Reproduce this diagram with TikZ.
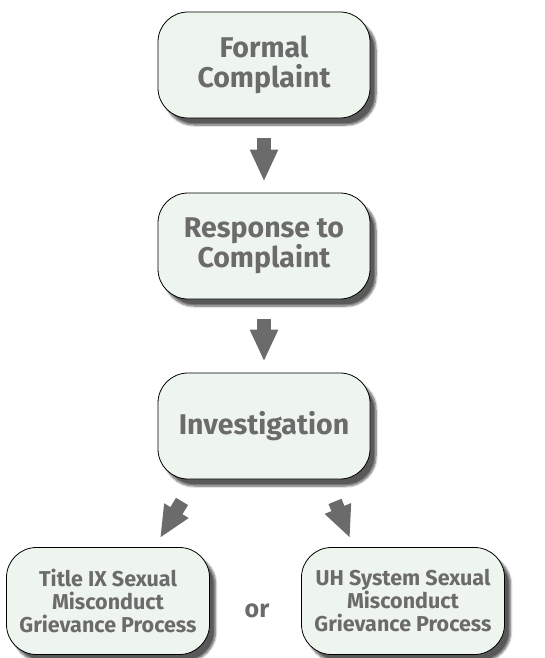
\documentclass[tikz,border=0pt]{standalone}
\usepackage{fontspec}
\setmainfont{Fira Sans}
\usetikzlibrary{arrows.meta,shadows.blur}
\definecolor{boxfill}{HTML}{EEF5EE}
\definecolor{textgray}{HTML}{6B6B6B}
\begin{document}
\begin{tikzpicture}[stepBox/.style={draw=black,line width=0.8pt,fill=boxfill,
                      rounded corners=30pt,align=center,text=textgray,
                      minimum width=212pt,minimum height=106pt,
                      font=\fontsize{28.5}{30}\selectfont\bfseries,
                      blur shadow={shadow xshift=6pt,shadow yshift=-7pt,
                        shadow blur steps=8,shadow opacity=65}},
                    endBox/.style={stepBox,minimum width=203pt,minimum height=107pt,
                      font=\fontsize{21.5}{23}\selectfont\bfseries},
                    bigArrow/.style={draw=textgray,line width=14pt,
                      -{Triangle[width=26pt,length=32pt]}}]
  \useasboundingbox (0pt,0pt) rectangle (545pt,-658pt);
  % steps
  \node [stepBox] (formal) at (264pt,-65pt) {Formal\\Complaint};
  \node [stepBox] (response) at (264pt,-246pt) {Response to\\Complaint};
  \node [stepBox] (invest) at (264pt,-426pt) {Investigation};
  \node [endBox] (titleix) at (108pt,-601pt) {Title IX Sexual\\Misconduct\\Grievance Process};
  \node [endBox] (uhsys) at (403pt,-601pt) {UH System Sexual\\Misconduct\\Grievance Process};
  \node [text=textgray,font=\fontsize{25}{28}\selectfont\bfseries,anchor=base]
    (or) at (257pt,-617pt) {or};
  % arrows
  \draw [bigArrow] ([yshift=-20pt]formal.south) -- ([yshift=11pt]response.north);
  \draw [bigArrow] ([yshift=-20pt]response.south) -- ([yshift=11pt]invest.north);
  \draw [bigArrow] ([xshift=-82pt,yshift=-22pt]invest.south) -- ([xshift=52pt,yshift=9pt]titleix.north);
  \draw [bigArrow] ([xshift=71pt,yshift=-22pt]invest.south) -- ([xshift=-53pt,yshift=9pt]uhsys.north);
\end{tikzpicture}
\end{document}
